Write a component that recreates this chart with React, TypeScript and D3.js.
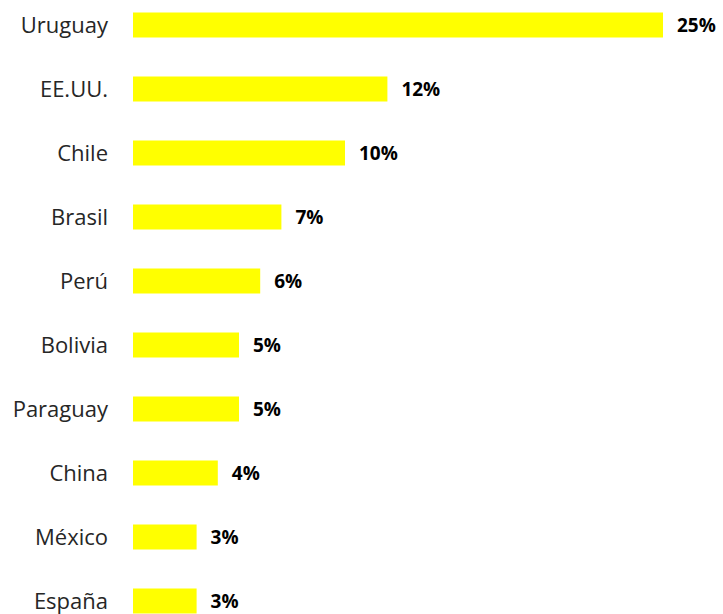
import { useEffect, useRef } from "react";
import * as d3 from "d3";

const countries = ["Uruguay", "EE.UU.", "Chile", "Brasil", "Perú", "Bolivia", "Paraguay", "China", "México", "España"];
const shares = [25, 12, 10, 7, 6, 5, 5, 4, 3, 3];

const W = 723;
const H = 614;

export default function App() {
  const ref = useRef<SVGSVGElement>(null);

  useEffect(() => {
    if (!ref.current) return;
    const svg = d3.select(ref.current);
    svg.selectAll("*").remove();

    const data = countries.map((c, i) => ({ name: c, value: shares[i] }));

    const x = d3.scaleLinear().domain([0, 25]).range([133, 663]);
    const y = d3.scalePoint<string>().domain(countries).range([25, 601]);
    const barH = 25;

    const font = "'Open Sans', sans-serif";

    // bars
    svg.append("g")
      .selectAll("rect")
      .data(data)
      .join("rect")
      .attr("x", x(0))
      .attr("y", (d) => y(d.name)! - barH / 2)
      .attr("width", (d) => x(d.value) - x(0))
      .attr("height", barH)
      .attr("fill", "#FFFF00");

    // category labels
    svg.append("g")
      .selectAll("text")
      .data(data)
      .join("text")
      .attr("x", 108)
      .attr("y", (d) => y(d.name)!)
      .attr("dy", "0.35em")
      .attr("text-anchor", "end")
      .attr("font-family", font)
      .attr("font-size", 22)
      .attr("fill", "#262626")
      .text((d) => d.name);

    // value labels
    svg.append("g")
      .selectAll("text")
      .data(data)
      .join("text")
      .attr("x", (d) => x(d.value) + 14)
      .attr("y", (d) => y(d.name)!)
      .attr("dy", "0.35em")
      .attr("font-family", font)
      .attr("font-size", 19)
      .attr("font-weight", "bold")
      .attr("fill", "#000")
      .text((d) => `${d.value}%`);
  }, []);

  return (
    <div style={{ position: "absolute", left: 0, top: 0, width: W, height: H, background: "#fff" }}>
      <svg ref={ref} width={W} height={H} />
    </div>
  );
}
